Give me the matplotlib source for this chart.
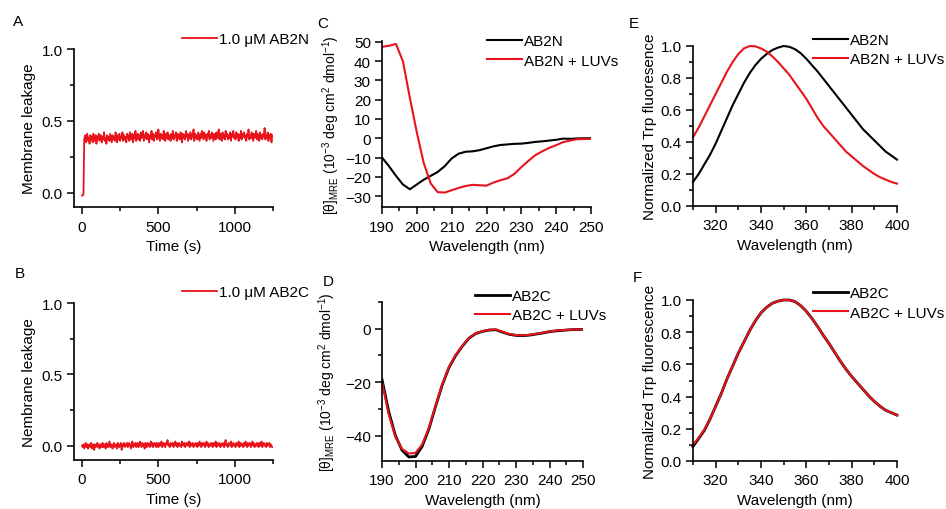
import numpy as np
import matplotlib
matplotlib.use("Agg")
import matplotlib.pyplot as plt
from matplotlib.ticker import MultipleLocator

plt.rcParams['font.family'] = ['Liberation Sans', 'DejaVu Sans']
plt.rcParams['mathtext.fontset'] = 'custom'
plt.rcParams['mathtext.rm'] = 'Liberation Sans'
plt.rcParams['mathtext.default'] = 'regular'
plt.rcParams['font.size'] = 11

RED = '#e8141c'

# ---- A / B: leakage time traces (one reading every 5 s) ----
time_s = np.arange(0, 1250, 5)
leak_ab2n = [
    -0.02, -0.02, -0.01, 0.37, 0.40, 0.35, 0.39, 0.41, 0.36, 0.38, 0.34, 0.40, 0.37, 0.39, 0.35, 0.41, 0.38, 0.36, 0.40, 0.34, 0.39, 0.37, 0.41, 0.36, 0.38,
    0.40, 0.35, 0.39, 0.37, 0.42, 0.36, 0.38, 0.34, 0.40, 0.37, 0.39, 0.36, 0.41, 0.38, 0.35, 0.40, 0.37, 0.39, 0.36, 0.42, 0.38, 0.35, 0.40, 0.37, 0.41,
    0.36, 0.39, 0.38, 0.42, 0.36, 0.40, 0.37, 0.39, 0.35, 0.41, 0.38, 0.40, 0.36, 0.42, 0.38, 0.37, 0.41, 0.35, 0.40, 0.38, 0.43, 0.36, 0.39, 0.41, 0.37,
    0.40, 0.36, 0.42, 0.38, 0.39, 0.43, 0.36, 0.40, 0.38, 0.42, 0.37, 0.41, 0.39, 0.35, 0.40, 0.38, 0.43, 0.37, 0.41, 0.36, 0.40, 0.39, 0.42, 0.37, 0.38,
    0.44, 0.39, 0.36, 0.41, 0.38, 0.40, 0.37, 0.43, 0.39, 0.36, 0.41, 0.38, 0.42, 0.37, 0.40, 0.39, 0.36, 0.41, 0.38, 0.43, 0.37, 0.40, 0.39, 0.42, 0.36,
    0.41, 0.38, 0.40, 0.37, 0.42, 0.39, 0.35, 0.41, 0.38, 0.40, 0.37, 0.43, 0.39, 0.41, 0.36, 0.40, 0.38, 0.42, 0.37, 0.40, 0.39, 0.44, 0.36, 0.41, 0.38,
    0.40, 0.37, 0.42, 0.39, 0.36, 0.41, 0.38, 0.43, 0.40, 0.37, 0.42, 0.38, 0.40, 0.36, 0.41, 0.39, 0.43, 0.37, 0.40, 0.38, 0.42, 0.39, 0.36, 0.41, 0.40,
    0.37, 0.42, 0.38, 0.40, 0.44, 0.37, 0.41, 0.39, 0.36, 0.42, 0.38, 0.40, 0.37, 0.43, 0.39, 0.41, 0.37, 0.40, 0.38, 0.42, 0.36, 0.41, 0.39, 0.43, 0.38,
    0.40, 0.37, 0.42, 0.39, 0.41, 0.36, 0.40, 0.38, 0.43, 0.37, 0.41, 0.39, 0.42, 0.38, 0.40, 0.36, 0.41, 0.39, 0.44, 0.37, 0.40, 0.38, 0.42, 0.39, 0.36,
    0.41, 0.38, 0.40, 0.43, 0.37, 0.41, 0.39, 0.36, 0.42, 0.38, 0.40, 0.37, 0.41, 0.39, 0.45, 0.37, 0.40, 0.38, 0.42, 0.36, 0.40, 0.38, 0.41, 0.35, 0.40,
]
leak_ab2c = [
    0.00, -0.01, 0.01, -0.02, 0.00, 0.02, -0.01, 0.01, -0.02, 0.00, 0.01, -0.01, 0.02, -0.02, 0.00, 0.01, -0.03, 0.01, -0.01, 0.00, 0.02, -0.01, 0.01, -0.02, 0.01,
    0.00, -0.01, 0.02, -0.01, 0.01, 0.00, -0.02, 0.02, 0.00, -0.01, 0.01, 0.03, -0.01, 0.01, 0.00, -0.02, 0.01, 0.02, -0.01, 0.00, 0.01, -0.02, 0.02, 0.00, -0.01,
    0.01, 0.02, -0.03, 0.01, 0.00, 0.02, -0.01, 0.01, 0.00, 0.02, -0.01, 0.01, 0.02, 0.00, -0.02, 0.01, 0.03, -0.01, 0.01, 0.00, 0.02, -0.01, 0.01, 0.02, -0.01,
    0.00, 0.03, 0.01, -0.01, 0.02, 0.00, 0.01, -0.02, 0.02, 0.01, -0.01, 0.02, 0.00, 0.01, -0.01, 0.03, 0.00, 0.02, -0.01, 0.01, 0.02, 0.00, -0.01, 0.02, 0.01,
    -0.01, 0.02, 0.00, 0.01, 0.03, -0.01, 0.01, 0.02, 0.00, -0.01, 0.02, 0.01, 0.04, 0.00, 0.01, -0.01, 0.02, 0.01, 0.00, 0.02, -0.01, 0.01, 0.03, 0.00, 0.02,
    -0.01, 0.01, 0.02, 0.00, 0.01, -0.01, 0.03, 0.01, 0.00, 0.02, -0.01, 0.01, 0.02, 0.00, 0.01, 0.03, -0.01, 0.02, 0.00, 0.01, 0.02, -0.01, 0.01, 0.00, 0.02,
    0.01, -0.01, 0.02, 0.00, 0.03, 0.01, -0.01, 0.02, 0.00, 0.01, 0.02, -0.01, 0.01, 0.03, 0.00, 0.02, -0.01, 0.01, 0.00, 0.02, 0.01, -0.01, 0.02, 0.00, 0.01,
    0.03, -0.01, 0.02, 0.00, 0.01, 0.02, -0.01, 0.01, 0.00, 0.02, 0.01, -0.01, 0.02, 0.04, 0.00, 0.01, -0.01, 0.02, 0.01, 0.00, 0.03, -0.01, 0.01, 0.02, 0.00,
    0.01, -0.01, 0.02, 0.01, 0.00, 0.03, -0.01, 0.01, 0.02, 0.00, 0.01, -0.01, 0.02, 0.00, 0.03, 0.01, -0.01, 0.02, 0.00, 0.01, 0.02, -0.01, 0.01, 0.03, 0.00,
    0.02, -0.01, 0.01, 0.00, 0.02, 0.01, -0.01, 0.02, 0.00, 0.01, 0.03, -0.01, 0.01, 0.02, 0.00, 0.01, -0.01, 0.02, 0.00, 0.01, 0.02, -0.01, 0.01, 0.00, -0.01,
]

# ---- C / D: CD spectra ----
wl_cd = np.arange(190, 251, 2)
cd_ab2n = [-10, -14.5, -19.5, -24, -26.5, -24, -21.5, -19.5, -17.5, -14.5, -10.5, -8, -7, -6.8, -6.2, -5.2,
           -4.2, -3.5, -3.2, -2.9, -2.8, -2.4, -1.9, -1.6, -1.2, -0.8, -0.2, -0.3, -0.1, 0.0, 0.0]
cd_ab2n_luv = [47.5, 48, 49, 40, 21, 3, -13, -23.5, -28, -28.2, -27, -25.8, -24.8, -24.2, -24.4, -24.6,
               -23, -21.8, -20.8, -18.5, -15, -11.8, -8.8, -6.8, -5, -3.6, -2, -1.2, -0.5, -0.4, -0.3]
cd_ab2c = [-19, -31, -40, -45.5, -48, -47.8, -44, -37.5, -29, -21, -14.5, -10, -6.5, -3.5, -1.8, -1.0,
           -0.5, -0.4, -1.3, -2.1, -2.5, -2.6, -2.4, -2.0, -1.6, -1.1, -0.8, -0.6, -0.4, -0.3, -0.25]
cd_ab2c_luv = [-20, -32, -40.5, -45, -46.7, -46.5, -43.3, -37, -28.7, -20.8, -14.3, -9.8, -6.4, -3.4, -1.7, -0.9,
               -0.4, -0.3, -1.2, -2.0, -2.4, -2.5, -2.3, -1.9, -1.5, -1.0, -0.7, -0.5, -0.4, -0.3, -0.25]

# ---- E / F: Trp fluorescence ----
wl_fl = np.arange(310, 400.1, 2.5)
fl_ab2n = [0.15, 0.20, 0.26, 0.32, 0.39, 0.47, 0.55, 0.63, 0.70, 0.77, 0.83, 0.88, 0.92, 0.95, 0.975, 0.99, 1.00,
           0.995, 0.98, 0.955, 0.92, 0.88, 0.84, 0.795, 0.75, 0.705, 0.66, 0.615, 0.57, 0.525, 0.48, 0.445, 0.41,
           0.375, 0.34, 0.315, 0.29]
fl_ab2n_luv = [0.43, 0.49, 0.56, 0.63, 0.70, 0.77, 0.84, 0.90, 0.95, 0.985, 1.00, 0.998, 0.985, 0.965, 0.935, 0.90,
               0.86, 0.82, 0.77, 0.72, 0.67, 0.61, 0.55, 0.50, 0.46, 0.42, 0.38, 0.34, 0.31, 0.28, 0.25, 0.225, 0.20,
               0.18, 0.165, 0.15, 0.14]
fl_ab2c = [0.09, 0.14, 0.19, 0.26, 0.34, 0.42, 0.51, 0.59, 0.67, 0.74, 0.81, 0.87, 0.92, 0.955, 0.98, 0.993, 1.00,
           1.00, 0.99, 0.965, 0.93, 0.885, 0.835, 0.78, 0.73, 0.675, 0.62, 0.57, 0.525, 0.485, 0.445, 0.405, 0.37,
           0.34, 0.315, 0.30, 0.285]
fl_ab2c_luv = [0.10, 0.145, 0.195, 0.26, 0.34, 0.42, 0.51, 0.59, 0.67, 0.74, 0.81, 0.87, 0.92, 0.955, 0.98, 0.993, 1.00,
               1.00, 0.99, 0.965, 0.93, 0.885, 0.835, 0.78, 0.73, 0.675, 0.62, 0.57, 0.525, 0.485, 0.445, 0.405, 0.37,
               0.34, 0.315, 0.30, 0.285]

CD_LABEL = r'[θ]$_{MRE}$ (10$^{-3}$ deg cm$^{2}$ dmol$^{-1}$)'

W, H = 946, 510
fig = plt.figure(figsize=(W / 100, H / 100), dpi=100)


def px_axes(l, t, r, b):
    return fig.add_axes([l / W, 1 - b / H, (r - l) / W, (b - t) / H])


def style(ax):
    for s in ['top', 'right']:
        ax.spines[s].set_visible(False)
    for s in ['left', 'bottom']:
        ax.spines[s].set_linewidth(1.2)
    ax.tick_params(which='major', direction='out', length=5, width=1.1, labelsize=11)
    ax.tick_params(which='minor', direction='out', length=3, width=1.1)
    ax.tick_params(axis='x', which='major', pad=4)
    ax.tick_params(axis='y', which='major', pad=3)


def legend(ax, x, y, spacing=0.36):
    ax.legend(loc='upper left', bbox_to_anchor=(x / W, 1 - y / H), bbox_transform=fig.transFigure,
              frameon=False, borderpad=0, borderaxespad=0, handlelength=2.3, handletextpad=0.15,
              labelspacing=spacing, fontsize=11)


def letter(x, y, s):
    fig.text(x / W, 1 - y / H, s, fontsize=11, ha='center', va='center')


# A
ax = px_axes(74, 50, 273, 208)
ax.plot(time_s, leak_ab2n, color=RED, lw=1.3, label='1.0 μM AB2N')
ax.set_xlim(-52, 1250)
ax.set_ylim(-0.1, 1.0)
ax.xaxis.set_major_locator(MultipleLocator(500))
ax.xaxis.set_minor_locator(MultipleLocator(250))
ax.yaxis.set_major_locator(MultipleLocator(0.5))
ax.yaxis.set_minor_locator(MultipleLocator(0.25))
ax.set_xlabel('Time (s)', labelpad=4)
ax.set_ylabel('Membrane leakage', labelpad=4)
style(ax)
legend(ax, 182, 33)

# B
ax = px_axes(74, 304, 273, 461)
ax.plot(time_s, leak_ab2c, color=RED, lw=1.3, label='1.0 μM AB2C')
ax.set_xlim(-52, 1250)
ax.set_ylim(-0.1, 1.0)
ax.xaxis.set_major_locator(MultipleLocator(500))
ax.xaxis.set_minor_locator(MultipleLocator(250))
ax.yaxis.set_major_locator(MultipleLocator(0.5))
ax.yaxis.set_minor_locator(MultipleLocator(0.25))
ax.set_xlabel('Time (s)', labelpad=4)
ax.set_ylabel('Nembrane leakage', labelpad=4)
style(ax)
legend(ax, 182, 286)

# C
ax = px_axes(382, 42, 591, 208)
ax.plot(wl_cd, cd_ab2n, color='black', lw=1.5, label='AB2N')
ax.plot(wl_cd, cd_ab2n_luv, color=RED, lw=1.5, label='AB2N + LUVs')
ax.set_xlim(190, 250)
ax.set_ylim(-35.7, 50.5)
ax.xaxis.set_major_locator(MultipleLocator(10))
ax.xaxis.set_minor_locator(MultipleLocator(5))
ax.yaxis.set_major_locator(MultipleLocator(10))
ax.set_xlabel('Wavelength (nm)', labelpad=4)
ax.set_ylabel(CD_LABEL, labelpad=2, fontsize=10)
style(ax)
legend(ax, 487, 35)

# D
ax = px_axes(382, 303, 583, 462)
ax.plot(wl_cd, cd_ab2c, color='black', lw=2.0, label='AB2C')
ax.plot(wl_cd, cd_ab2c_luv, color=RED, lw=1.5, label='AB2C + LUVs')
ax.set_xlim(190, 250)
ax.set_ylim(-49.5, 10)
ax.xaxis.set_major_locator(MultipleLocator(10))
ax.xaxis.set_minor_locator(MultipleLocator(5))
ax.yaxis.set_major_locator(MultipleLocator(20))
ax.yaxis.set_minor_locator(MultipleLocator(10))
ax.set_xlabel('Wavelength (nm)', labelpad=4)
ax.set_ylabel(CD_LABEL, labelpad=5, fontsize=10)
style(ax)
legend(ax, 475, 290)

# E
ax = px_axes(693, 47, 897, 207)
ax.plot(wl_fl, fl_ab2n, color='black', lw=1.5, label='AB2N', clip_on=False)
ax.plot(wl_fl, fl_ab2n_luv, color=RED, lw=1.5, label='AB2N + LUVs', clip_on=False)
ax.set_xlim(310, 400)
ax.set_ylim(0, 1.0)
ax.xaxis.set_major_locator(MultipleLocator(20))
ax.xaxis.set_minor_locator(MultipleLocator(10))
ax.yaxis.set_major_locator(MultipleLocator(0.2))
ax.yaxis.set_minor_locator(MultipleLocator(0.1))
ax.set_xlabel('Wavelength (nm)', labelpad=4)
ax.set_ylabel('Normalized Trp fluoresence', labelpad=3)
style(ax)
legend(ax, 813, 34)

# F
ax = px_axes(693, 301, 897, 462)
ax.plot(wl_fl, fl_ab2c, color='black', lw=2.0, label='AB2C', clip_on=False)
ax.plot(wl_fl, fl_ab2c_luv, color=RED, lw=1.5, label='AB2C + LUVs', clip_on=False)
ax.set_xlim(310, 400)
ax.set_ylim(0, 1.0)
ax.xaxis.set_major_locator(MultipleLocator(20))
ax.xaxis.set_minor_locator(MultipleLocator(10))
ax.yaxis.set_major_locator(MultipleLocator(0.2))
ax.yaxis.set_minor_locator(MultipleLocator(0.1))
ax.set_xlabel('Wavelength (nm)', labelpad=4)
ax.set_ylabel('Normalized Trp fluorescence', labelpad=3)
style(ax)
legend(ax, 813, 287)

letter(18, 22, 'A')
letter(20, 274, 'B')
letter(323, 24, 'C')
letter(328, 282, 'D')
letter(634, 24, 'E')
letter(637, 278, 'F')

fig.savefig('out.png', dpi=100)
